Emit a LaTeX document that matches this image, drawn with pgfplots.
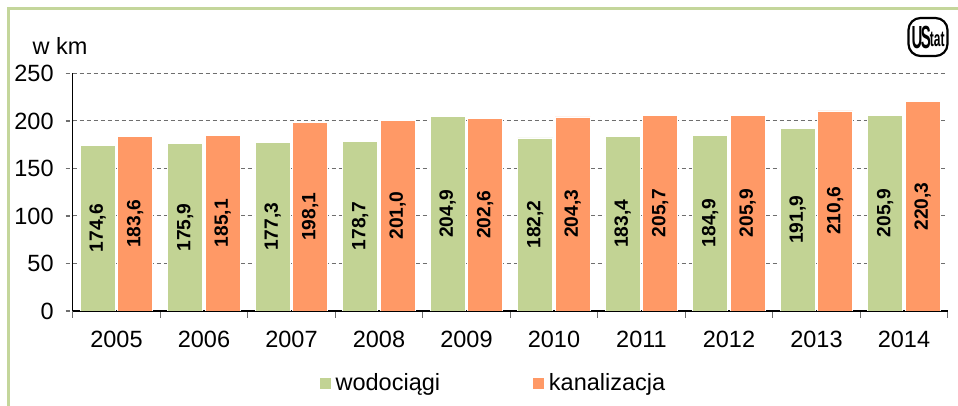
\documentclass[border=0pt]{standalone}
\usepackage{pgfplots}
\pgfplotsset{compat=1.18}
\usepackage{fontspec}
\setmainfont{Liberation Sans}
\definecolor{wgreen}{RGB}{194,211,148}
\definecolor{korange}{RGB}{255,153,102}
\definecolor{frame}{RGB}{196,214,155}
\definecolor{gridc}{RGB}{110,110,110}
\begin{document}
\begin{tikzpicture}
\path[use as bounding box] (0,0) rectangle (479pt,203pt);
\draw[frame, line width=1.5pt] (4pt,0pt) -- (4pt,198.5pt) -- (479pt,198.5pt);
\begin{axis}[
  at={(36.35pt,47.5pt)}, anchor=south west,
  scale only axis, width=437.5pt, height=118.75pt,
  xmin=-0.5, xmax=9.5, ymin=0, ymax=250,
  axis lines*=left, axis line style={-, black, line width=0.6pt},
  ytick={0,50,...,250},
  xtick={0,...,9},
  xticklabels={2005,2006,2007,2008,2009,2010,2011,2012,2013,2014},
  minor xtick={-0.5,0.5,...,9.5},
  major x tick style={draw=none},
  minor x tick style={gridc, line width=0.6pt},
  ytick style={gridc, line width=0.6pt, dash pattern=on 2pt off 1.5pt},
  tick align=outside, major tick length=3.5pt, minor tick length=3.5pt,
  ymajorgrids, grid style={gridc, line width=0.5pt, dash pattern=on 2pt off 1.5pt},
  tick label style={font=\fontsize{11.75}{14}\selectfont},
  yticklabel style={xshift=-2.5pt},
  xticklabel style={yshift=-3pt},
  /pgf/number format/assume math mode=true,
  /pgf/number format/1000 sep={},
  legend columns=2,
  legend style={draw=none, fill=none, at={(axis description cs:0.4815,0)}, anchor=center, yshift=-36pt,
    font=\fontsize{11.75}{14}\selectfont,
    /tikz/every even column/.append style={column sep=44pt}},
  legend image code/.code={\fill[#1] (0pt,-3pt) rectangle (6pt,3pt);},
  nodes near coords={\pgfmathprintnumber[fixed,fixed zerofill,precision=1,use comma,assume math mode=true]{\pgfplotspointmeta}},
  visualization depends on={y \as \rawy},
]
\addplot[ybar, bar width=0.403, bar shift=-0.214, fill=wgreen, draw=white, line width=0.4pt,
  every node near coord/.append style={shift={(axis direction cs:-0.214,-\rawy/2)}, rotate=90, anchor=center, font=\bfseries\fontsize{9.6}{11}\selectfont}] coordinates {
 (0,174.6) (1,175.9) (2,177.3) (3,178.7) (4,204.9) (5,182.2) (6,183.4) (7,184.9) (8,191.9) (9,205.9)};
\addlegendentry{wodociągi}
\addplot[ybar, bar width=0.403, bar shift=0.214, fill=korange, draw=white, line width=0.4pt,
  every node near coord/.append style={shift={(axis direction cs:0.214,-\rawy/2)}, rotate=90, anchor=center, font=\bfseries\fontsize{9.6}{11}\selectfont}] coordinates {
 (0,183.6) (1,185.1) (2,198.1) (3,201.0) (4,202.6) (5,204.3) (6,205.7) (7,205.9) (8,210.6) (9,220.3)};
\addlegendentry{kanalizacja}
\end{axis}
\node[font=\fontsize{11.75}{14}\selectfont] at (30pt,180pt) {w km};
\node[draw=black, rounded corners=6pt, line width=1.1pt, inner xsep=1.5pt, inner ysep=1pt, minimum height=19pt, font=\bfseries\fontsize{10}{10}\selectfont] at (464pt,184.5pt) {\scalebox{0.75}[1.6]{U\kern-1ptS}\kern-0.5pt\raisebox{1pt}{\scalebox{0.6}[1.1]{tat}}};
\end{tikzpicture}
\end{document}
